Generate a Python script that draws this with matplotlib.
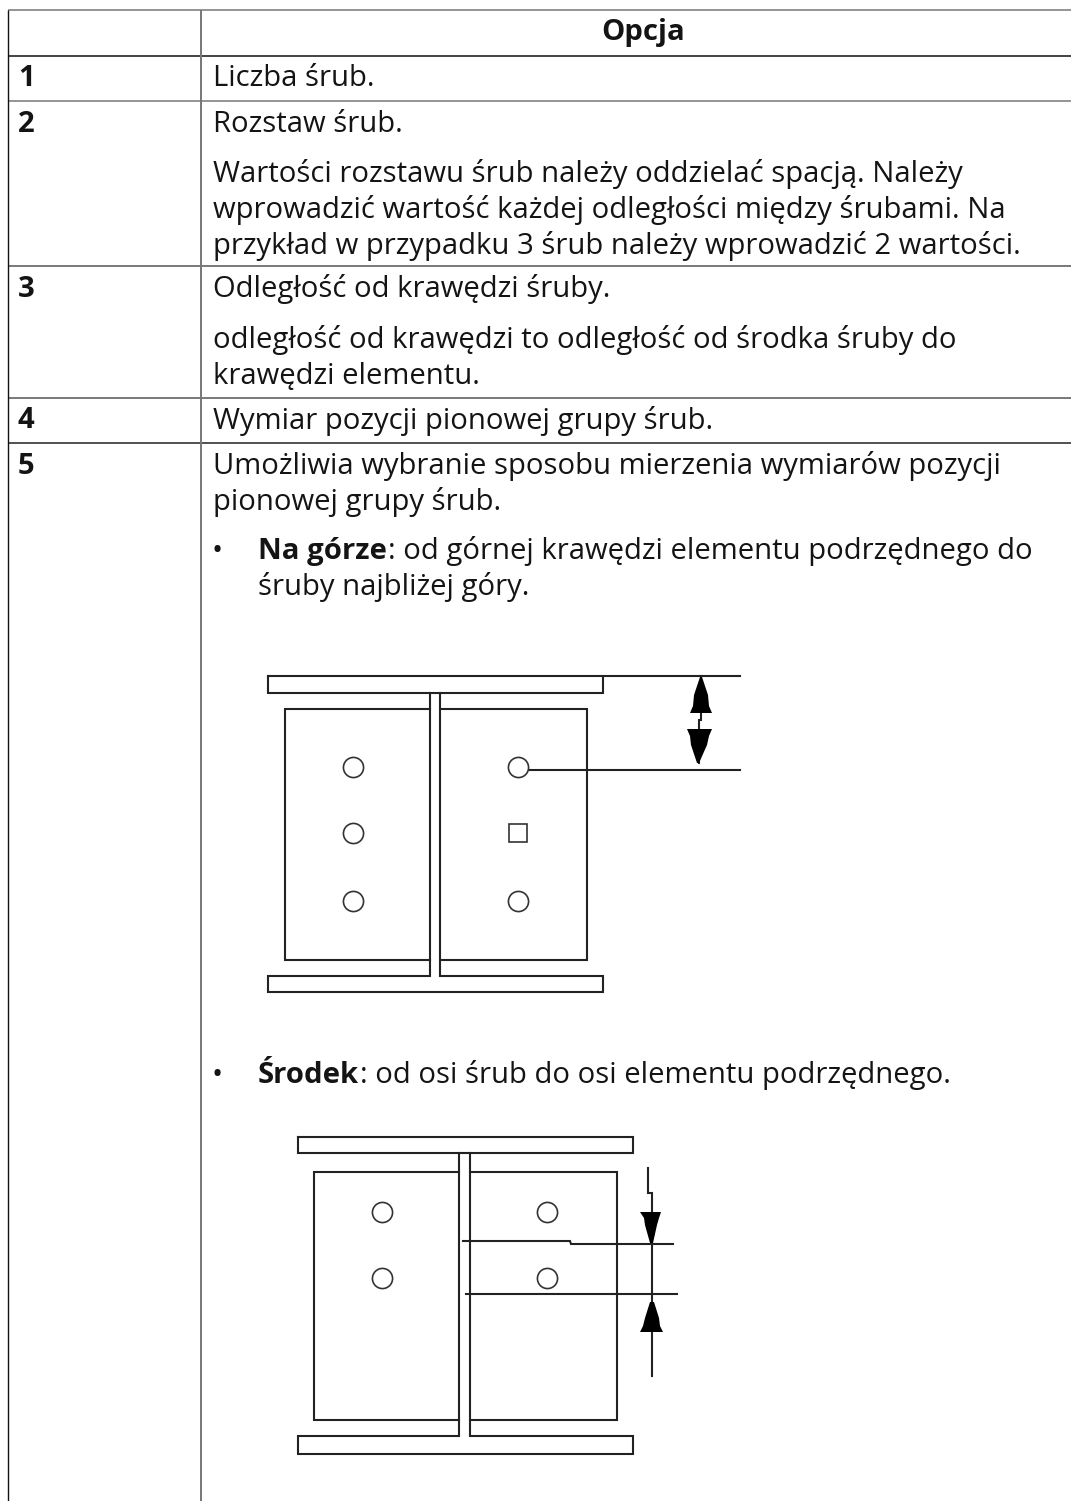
import matplotlib
matplotlib.use("Agg")
import matplotlib.pyplot as plt
from matplotlib.patches import Polygon

W, H = 1071, 1501
plt.rcParams['font.family'] = ['Open Sans', 'DejaVu Sans']
FS = 21.05
TXT = "#141414"

# table layout, pixels from the top left
left_x, col_x, right_x = 7.5, 201, 1071
row_y = [9.5, 55.5, 100.5, 266, 397.5, 443]
row_col = ["#777777", "#111111", "#777777", "#555555", "#555555", "#222222"]
header = "Opcja"

row_nums = [("1", 86.5), ("2", 131.5), ("3", 297), ("4", 428.5), ("5", 474)]

plain = [
    ("Liczba śrub.", 213, 86.5),
    ("Rozstaw śrub.", 213, 131.5),
    ("Wartości rozstawu śrub należy oddzielać spacją. Należy", 213, 182),
    ("wprowadzić wartość każdej odległości między śrubami. Na", 213, 218),
    ("przykład w przypadku 3 śrub należy wprowadzić 2 wartości.", 213, 254),
    ("Odległość od krawędzi śruby.", 213, 297),
    ("odległość od krawędzi to odległość od środka śruby do", 213, 348),
    ("krawędzi elementu.", 213, 384),
    ("Wymiar pozycji pionowej grupy śrub.", 213, 428.5),
    ("Umożliwia wybranie sposobu mierzenia wymiarów pozycji", 213, 474),
    ("pionowej grupy śrub.", 213, 510),
    ("śruby najbliżej góry.", 258, 595),
]

bullets = [
    ("Na górze", ": od górnej krawędzi elementu podrzędnego do", 559.5),
    ("Środek", ": od osi śrub do osi elementu podrzędnego.", 1083),
]

# first drawing: outline pieces
draw1_lines = [
    [(268, 676), (603, 676), (603, 693), (268, 693), (268, 676)],
    [(430, 693), (430, 976), (268, 976), (268, 992), (603, 992), (603, 976), (440, 976), (440, 693)],
    [(430, 709), (285, 709), (285, 960), (430, 960)],
    [(440, 709), (587, 709), (587, 960), (440, 960)],
    [(605, 676), (740, 676)],
    [(527, 770), (740, 770)],
    [(701, 676), (701, 720), (699, 720), (699, 763)],
]
draw1_holes = [(353, 767), (518, 767), (353, 833), (353, 901), (518, 901)]
draw1_squares = [(518, 833)]
draw1_arrows = [
    [(700, 677), (702, 677), (708, 695), (709, 706), (712, 713), (690, 713), (693, 706), (694, 695)],
    [(699, 763), (697, 763), (691, 745), (690, 736), (687, 729), (712, 729), (709, 736), (707, 745)],
]

# second drawing
draw2_lines = [
    [(298, 1137), (633, 1137), (633, 1153), (298, 1153), (298, 1137)],
    [(459, 1153), (459, 1436), (298, 1436), (298, 1454), (633, 1454), (633, 1436), (470, 1436), (470, 1153)],
    [(459, 1172), (314, 1172), (314, 1420), (459, 1420)],
    [(470, 1172), (617, 1172), (617, 1420), (470, 1420)],
    [(463, 1241), (570, 1241), (571, 1244), (673, 1244)],
    [(466, 1294), (677, 1294)],
    [(648, 1168), (648, 1193), (652, 1193), (652, 1376)],
]
draw2_holes = [(382, 1212), (547, 1212), (382, 1278), (547, 1278)]
draw2_squares = []
draw2_arrows = [
    [(653, 1243), (650, 1243), (645, 1225), (644, 1218), (640, 1212), (661, 1212), (659, 1218), (657, 1225)],
    [(650, 1302), (654, 1302), (659, 1318), (660, 1326), (663, 1332), (640, 1332), (643, 1326), (645, 1318)],
]

fig = plt.figure(figsize=(W / 100, H / 100), dpi=100)
ax = fig.add_axes([0, 0, 1, 1])
ax.set_xlim(0, W)
ax.set_ylim(H, 0)
ax.axis("off")

# grid
for y, c in zip(row_y, row_col):
    ax.plot([left_x, right_x], [y, y], color=c, lw=1.1, solid_capstyle="butt")
ax.plot([left_x, left_x], [row_y[0], H], color="#111111", lw=1.0, solid_capstyle="butt")
ax.plot([col_x, col_x], [row_y[0], H], color="#777777", lw=1.4, solid_capstyle="butt")

ax.text(643, 40, header, fontsize=FS, fontweight="bold", ha="center", va="baseline", color=TXT)
for s, y in row_nums:
    ax.text(18, y, s, fontsize=FS, fontweight="bold", va="baseline", color=TXT)
for s, x, y in plain:
    ax.text(x, y, s, fontsize=FS, va="baseline", color=TXT)

renderer = fig.canvas.get_renderer()
for b, rest, y in bullets:
    ax.text(217, y - 11.5, "•", fontsize=FS, ha="center", va="center_baseline", color=TXT)
    t = ax.text(258, y, b, fontsize=FS, fontweight="bold", va="baseline", color=TXT)
    w = t.get_window_extent(renderer).width
    ax.text(258 + w + 1, y, rest, fontsize=FS, va="baseline", color=TXT)

# drawings
drawings = [
    (draw1_lines, draw1_holes, draw1_squares, draw1_arrows),
    (draw2_lines, draw2_holes, draw2_squares, draw2_arrows),
]
for lines, holes, squares, arrows in drawings:
    for pts in lines:
        ax.plot([p[0] for p in pts], [p[1] for p in pts], color="#222222", lw=1.5, solid_joinstyle="miter")
    for x, y in holes:
        ax.plot([x], [y], marker="o", ms=14.5, mfc="white", mec="#333333", mew=1.2, ls="none", zorder=3)
    for x, y in squares:
        ax.plot([x], [y], marker="s", ms=13.5, mfc="white", mec="#333333", mew=1.2, ls="none", zorder=3)
    for tri in arrows:
        ax.add_patch(Polygon(tri, closed=True, color="black", lw=0, zorder=4))

fig.savefig("out.png", dpi=100)
